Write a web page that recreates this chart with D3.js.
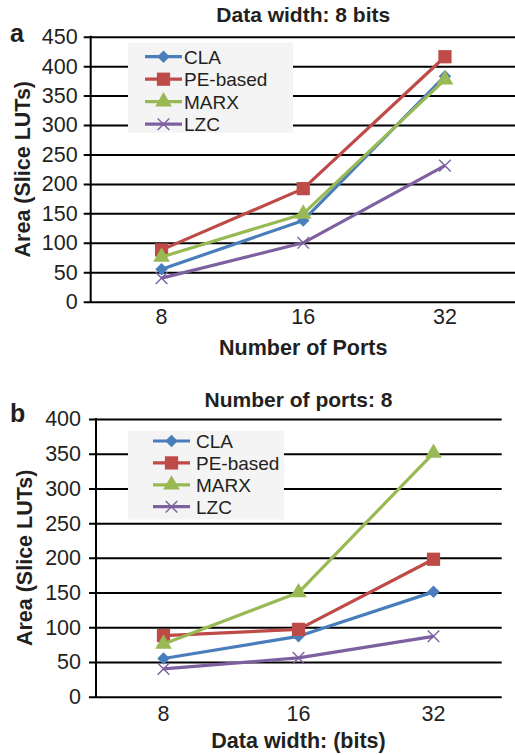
<!DOCTYPE html>
<html>
<head>
<meta charset="utf-8">
<script src="https://cdn.jsdelivr.net/npm/d3@7"></script>
<style>
  body { margin: 0; background: #fff; }
  text { font-family: "Liberation Sans", Arial, sans-serif; fill: #231f20; }
</style>
</head>
<body>
<svg id="fig" width="515" height="755"></svg>
<script>
// categories and tick labels
var xCategories = ["8", "16", "32"];
var seriesNames = ["CLA", "PE-based", "MARX", "LZC"];
var seriesColors = ["#4a7ebb", "#be4b48", "#98b954", "#7d60a0"];
var ticksA = [0, 50, 100, 150, 200, 250, 300, 350, 400, 450];
var ticksB = [0, 50, 100, 150, 200, 250, 300, 350, 400];

// panel a: data width 8 bits, x = number of ports
var portsCla = [55, 138, 383];
var portsPe = [88, 192, 416];
var portsMarx = [76, 149, 377];
var portsLzc = [40, 100, 231];

// panel b: 8 ports, x = data width
var widthCla = [55, 87, 151];
var widthPe = [88, 97, 198];
var widthMarx = [76, 150, 351];
var widthLzc = [40, 56, 87];

var svg = d3.select("#fig");

function main() {
    buildPanel(svg, {
        letter: "a", letterY: 42,
        title: "Data width: 8 bits", titleY: 22,
        xTitle: "Number of Ports", xTitleY: 355, xLabelDy: 22,
        left: 90.7, right: 515.8, top: 36.7, bottom: 301.7, gridRight: 515,
        ticks: ticksA, labelPad: 13, yTitleX: 30,
        series: [portsCla, portsPe, portsMarx, portsLzc],
        legend: { x: 128, y: 42.7, w: 165, h: 90, row0: 56.7, rowStep: 22.5, lineX1: 145, lineX2: 182, textX: 184 }
    });
    buildPanel(svg, {
        letter: "b", letterY: 421.7,
        title: "Number of ports: 8", titleY: 407,
        xTitle: "Data width: (bits)", xTitleY: 748, xLabelDy: 24,
        left: 96, right: 501, top: 419, bottom: 696.7, gridRight: 501.7,
        ticks: ticksB, labelPad: 15, yTitleX: 32,
        series: [widthCla, widthPe, widthMarx, widthLzc],
        legend: { x: 128, y: 431, w: 156, h: 88.5, row0: 441, rowStep: 21.9, lineX1: 153, lineX2: 190, textX: 196 }
    });
}

function markerPath(i) {
    if (i == 0) return d3.symbol(d3.symbolSquare, 78)();
    if (i == 1) return d3.symbol(d3.symbolSquare, 175)();
    if (i == 2) return d3.symbol(d3.symbolTriangle, 120)();
    return d3.symbol(d3.symbolX, 90)();
}

function addMarker(g, i, x, y) {
    var m = g.append("path")
        .attr("d", markerPath(i))
        .attr("transform", "translate(" + x + "," + y + ")" + (i == 0 ? " rotate(45)" : ""));
    if (i == 3) {
        m.attr("fill", "none").attr("stroke", seriesColors[i]).attr("stroke-width", 1.4);
    } else {
        m.attr("fill", seriesColors[i]);
    }
}

function buildPanel(svg, p) {
    var yMax = p.ticks[p.ticks.length - 1];
    var x = d3.scalePoint().domain(xCategories).range([p.left, p.right]).padding(0.5);
    var y = d3.scaleLinear().domain([0, yMax]).range([p.bottom, p.top]);

    // gridlines + y ticks
    var yAxis = svg.append("g")
        .attr("transform", "translate(" + p.left + ",0)")
        .call(d3.axisLeft(y).tickValues(p.ticks).tickSize(7).tickPadding(p.labelPad - 7).tickSizeOuter(0));
    yAxis.select(".domain").remove();
    yAxis.selectAll(".tick line")
        .attr("x1", p.gridRight - p.left)
        .attr("stroke", "#000")
        .attr("stroke-width", 2);
    yAxis.selectAll(".tick text")
        .attr("font-size", 21.5)
        .attr("font-family", "Liberation Sans, Arial, sans-serif")
        .attr("fill", "#231f20");

    svg.append("line")
        .attr("x1", p.left).attr("x2", p.left)
        .attr("y1", y(yMax) - 1).attr("y2", y(0) + 1)
        .attr("stroke", "#000").attr("stroke-width", 2);

    // x labels
    svg.selectAll(null)
        .data(xCategories)
        .enter().append("text")
        .attr("x", function(d) { return x(d); })
        .attr("y", p.bottom + p.xLabelDy)
        .attr("text-anchor", "middle")
        .attr("font-size", 21.5)
        .text(function(d) { return d; });

    // titles
    var mid = (p.left + p.right) / 2;
    svg.append("text")
        .attr("x", mid).attr("y", p.titleY)
        .attr("text-anchor", "middle")
        .attr("font-size", 21).attr("font-weight", "bold")
        .text(p.title);
    svg.append("text")
        .attr("x", mid).attr("y", p.xTitleY)
        .attr("text-anchor", "middle")
        .attr("font-size", 21.5).attr("font-weight", "bold")
        .text(p.xTitle);
    svg.append("text")
        .attr("transform", "translate(" + p.yTitleX + "," + ((p.top + p.bottom) / 2) + ") rotate(-90)")
        .attr("text-anchor", "middle")
        .attr("font-size", 21.5).attr("font-weight", "bold")
        .text("Area (Slice LUTs)");
    svg.append("text")
        .attr("x", 10).attr("y", p.letterY)
        .attr("font-size", 25).attr("font-weight", "bold")
        .text(p.letter);

    // series
    var line = d3.line()
        .x(function(d, i) { return x(xCategories[i]); })
        .y(function(d) { return y(d); });

    p.series.forEach(function(vals, i) {
        var g = svg.append("g");
        g.append("path")
            .attr("d", line(vals))
            .attr("fill", "none")
            .attr("stroke", seriesColors[i])
            .attr("stroke-width", 3.2)
            .attr("stroke-linejoin", "round");
        vals.forEach(function(v, j) {
            addMarker(g, i, x(xCategories[j]), y(v));
        });
    });

    // legend
    var L = p.legend;
    var lg = svg.append("g");
    lg.append("rect")
        .attr("x", L.x).attr("y", L.y)
        .attr("width", L.w).attr("height", L.h)
        .attr("fill", "#f4f4f4");
    seriesNames.forEach(function(name, i) {
        var ry = L.row0 + i * L.rowStep;
        lg.append("line")
            .attr("x1", L.lineX1).attr("x2", L.lineX2)
            .attr("y1", ry).attr("y2", ry)
            .attr("stroke", seriesColors[i]).attr("stroke-width", 3.2);
        addMarker(lg, i, (L.lineX1 + L.lineX2) / 2, ry);
        lg.append("text")
            .attr("x", L.textX).attr("y", ry)
            .attr("dy", "0.36em")
            .attr("font-size", 19)
            .text(name);
    });
}

main();
</script>
</body>
</html>
